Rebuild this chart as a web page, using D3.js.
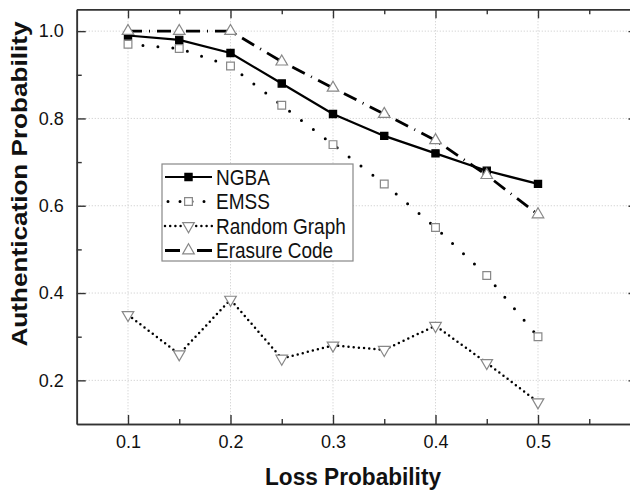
<!DOCTYPE html>
<html><head><meta charset="utf-8">
<script src="https://cdn.jsdelivr.net/npm/d3@7"></script>
<style>html,body{margin:0;padding:0;background:#fff;overflow:hidden;width:630px;height:493px}svg{display:block;overflow:hidden}text{font-family:"Liberation Sans",Arial,sans-serif}</style>
</head><body><svg id="c" width="630" height="493" viewBox="0 0 630 493"></svg>
<script>
const lossProb = [0.1,0.15,0.2,0.25,0.3,0.35,0.4,0.45,0.5];
const ngba   = [0.99,0.98,0.95,0.88,0.81,0.76,0.72,0.68,0.65];
const emss   = [0.97,0.96,0.92,0.83,0.74,0.65,0.55,0.44,0.30];
const randomGraph = [0.35,0.26,0.385,0.25,0.28,0.27,0.325,0.24,0.15];
const erasure = [1.0,1.0,1.0,0.93,0.87,0.81,0.75,0.67,0.58];
const xTicks = [0.1,0.2,0.3,0.4,0.5];
const xMinor = [0.15,0.25,0.35,0.45,0.55];
const yTicks = [0.2,0.4,0.6,0.8,1.0];
const yMinor = [0.3,0.5,0.7,0.9];
const seriesNames = ["NGBA","EMSS","Random Graph","Erasure Code"];

const svg = d3.select("#c");
const x = d3.scaleLinear().domain([0.05,0.6]).range([76.75,640.5]);
const y = d3.scaleLinear().domain([0.1,1.05]).range([424,9.3]);
const L = x.range()[0], R = x.range()[1], T = y.range()[1], B = y.range()[0];
const clipR = 630; // visible right edge of the picture

// grid
const g = svg.append("g");
g.selectAll(".gx").data(xTicks).join("line").attr("x1",d=>x(d)).attr("x2",d=>x(d)).attr("y1",T).attr("y2",B)
 .attr("stroke","#c8c8c8").attr("stroke-width",1).attr("stroke-dasharray","1,2");
g.selectAll(".gy").data(yTicks).join("line").attr("y1",d=>y(d)).attr("y2",d=>y(d)).attr("x1",L).attr("x2",clipR)
 .attr("stroke","#c8c8c8").attr("stroke-width",1).attr("stroke-dasharray","1,2");

// axes (ticks inward)
const axCol = "#333";
function styleAxis(sel){ sel.select(".domain").attr("stroke",axCol).attr("stroke-width",1.6);
  sel.selectAll(".tick line").attr("stroke",axCol).attr("stroke-width",1.4);
  sel.selectAll("text").attr("fill","#111").style("font-size","18px"); }
const xb = svg.append("g").attr("transform",`translate(0,${B})`).call(d3.axisBottom(x).tickValues(xTicks).tickSizeInner(-9).tickSizeOuter(0).tickPadding(11).tickFormat(d3.format(".1f")));
styleAxis(xb);
const xbm = svg.append("g").attr("transform",`translate(0,${B})`).call(d3.axisBottom(x).tickValues(xMinor).tickSizeInner(-5).tickSizeOuter(0).tickFormat(""));
styleAxis(xbm);
const xt = svg.append("g").attr("transform",`translate(0,${T})`).call(d3.axisTop(x).tickValues(xTicks).tickSizeInner(-9).tickSizeOuter(0).tickFormat(""));
styleAxis(xt);
const xtm = svg.append("g").attr("transform",`translate(0,${T})`).call(d3.axisTop(x).tickValues(xMinor).tickSizeInner(-5).tickSizeOuter(0).tickFormat(""));
styleAxis(xtm);
const yl = svg.append("g").attr("transform",`translate(${L},0)`).call(d3.axisLeft(y).tickValues(yTicks).tickSizeInner(-9).tickSizeOuter(0).tickPadding(13).tickFormat(d3.format(".1f")));
styleAxis(yl);
const ylm = svg.append("g").attr("transform",`translate(${L},0)`).call(d3.axisLeft(y).tickValues(yMinor).tickSizeInner(-5).tickSizeOuter(0).tickFormat(""));
styleAxis(ylm);
// right-side inward ticks: only their tips show at the picture's edge
svg.append("g").selectAll("line").data(yTicks).join("line")
  .attr("x1",628.5).attr("x2",clipR).attr("y1",d=>y(d)+0.5).attr("y2",d=>y(d)+0.5)
  .attr("stroke",axCol).attr("stroke-width",1.4);

// series
const series = [
  {name:seriesNames[0], vals:ngba, dash:null, w:2.2, sym:d3.symbolSquare, size:52, fill:"#000", stroke:"#000"},
  {name:seriesNames[1], vals:emss, dash:"0,15", w:3, sym:d3.symbolSquare, size:60, fill:"#fff", stroke:"#888"},
  {name:seriesNames[2], vals:randomGraph, dash:"0,5.2", w:2.5, sym:d3.symbolTriangle, size:58, fill:"#fff", stroke:"#888", rot:180},
  {name:seriesNames[3], vals:erasure, dash:"14,7,1,7", w:2.8, sym:d3.symbolTriangle, size:58, fill:"#fff", stroke:"#888", rot:0}
];
const line = d3.line().x((d,i)=>x(lossProb[i])).y(d=>y(d));
series.forEach(s=>{
  svg.append("path").datum(s.vals).attr("d",line).attr("fill","none").attr("stroke","#000")
    .attr("stroke-width",s.w).attr("stroke-linecap",s.dash && s.dash.startsWith("0")?"round":"butt")
    .attr("stroke-dasharray",s.dash);
});
series.forEach(s=>{
  svg.append("g").selectAll("path").data(s.vals).join("path")
    .attr("d",d3.symbol(s.sym,s.size))
    .attr("transform",(d,i)=>`translate(${x(lossProb[i])},${y(d)}) rotate(${s.rot||0})`)
    .attr("fill",s.fill).attr("stroke",s.stroke).attr("stroke-width",1.2);
});

// legend
const lg = svg.append("g");
lg.append("rect").attr("x",162).attr("y",164).attr("width",191).attr("height",97)
  .attr("fill","#fff").attr("stroke","#888").attr("stroke-width",1.2);
series.forEach((s,k)=>{
  const cy = 177 + k*24.5;
  lg.append("line").attr("x1",165).attr("x2",212).attr("y1",cy).attr("y2",cy)
    .attr("stroke","#000").attr("stroke-width",s.w)
    .attr("stroke-linecap",s.dash && s.dash.startsWith("0")?"round":"butt")
    .attr("stroke-dasharray",k===1?"0,12":k===3?"15,17,15":s.dash)
    .attr("stroke-dashoffset",k===1?-3:0);
  lg.append("path").attr("d",d3.symbol(s.sym,s.size)).attr("transform",`translate(188.5,${cy}) rotate(${s.rot||0})`)
    .attr("fill",s.fill).attr("stroke",s.stroke).attr("stroke-width",1.2);
  lg.append("text").attr("transform",`translate(216,${cy}) scale(1,1.12)`).attr("dy","0.36em")
    .style("font-size","19px").attr("fill","#111").text(s.name);
});

// titles
svg.append("text").attr("transform","translate(353,485) scale(1,1.08)").attr("text-anchor","middle").style("font-size","22px")
  .style("font-weight","bold").attr("fill","#111").attr("textLength",176).attr("lengthAdjust","spacingAndGlyphs").text("Loss Probability");
svg.append("text").attr("transform","translate(27,184) rotate(-90)").attr("text-anchor","middle")
  .style("font-size","22px").style("font-weight","bold").attr("fill","#111")
  .attr("textLength",325).attr("lengthAdjust","spacingAndGlyphs").text("Authentication Probability");
</script></body></html>
